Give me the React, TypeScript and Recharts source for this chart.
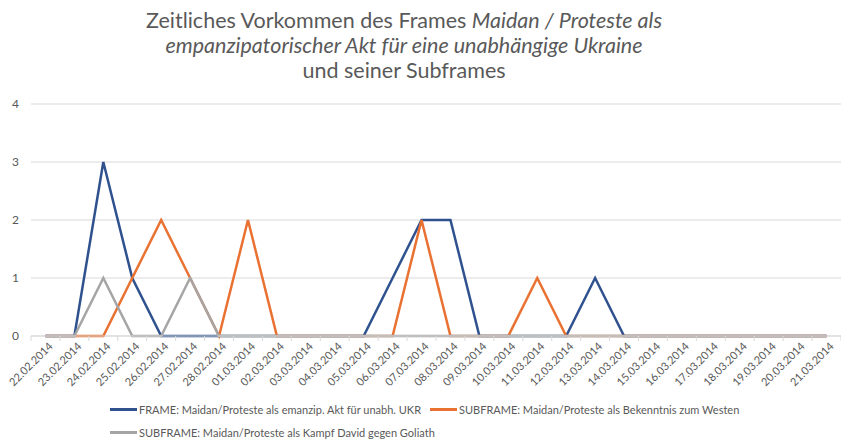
import { CartesianGrid, Line, LineChart, XAxis, YAxis } from "recharts"

const dates = [
  "22.02.2014", "23.02.2014", "24.02.2014", "25.02.2014", "26.02.2014", "27.02.2014", "28.02.2014",
  "01.03.2014", "02.03.2014", "03.03.2014", "04.03.2014", "05.03.2014", "06.03.2014", "07.03.2014",
  "08.03.2014", "09.03.2014", "10.03.2014", "11.03.2014", "12.03.2014", "13.03.2014", "14.03.2014",
  "15.03.2014", "16.03.2014", "17.03.2014", "18.03.2014", "19.03.2014", "20.03.2014", "21.03.2014",
]

const frameUkr = [0, 0, 3, 1, 0, 0, 0, 0, 0, 0, 0, 0, 1, 2, 2, 0, 0, 0, 0, 1, 0, 0, 0, 0, 0, 0, 0, 0]
const subWesten = [0, 0, 0, 1, 2, 1, 0, 2, 0, 0, 0, 0, 0, 2, 0, 0, 0, 1, 0, 0, 0, 0, 0, 0, 0, 0, 0, 0]
const subGoliath = [0, 0, 1, 0, 0, 1, 0, 0, 0, 0, 0, 0, 0, 0, 0, 0, 0, 0, 0, 0, 0, 0, 0, 0, 0, 0, 0, 0]

const yTicks = [0, 1, 2, 3, 4]

const seriesNames = {
  frame: "FRAME: Maidan/Proteste als emanzip. Akt für unabh. UKR",
  westen: "SUBFRAME: Maidan/Proteste als Bekenntnis zum Westen",
  goliath: "SUBFRAME: Maidan/Proteste als Kampf David gegen Goliath",
}

const data = dates.map((date, i) => ({
  date,
  frame: frameUkr[i],
  westen: subWesten[i],
  goliath: subGoliath[i],
}))

const FONT = "Lato, 'Open Sans', sans-serif"
const TEXT = "#595959"
const GRID = "#d9d9d9"
const BLUE = "#2f528f"
const ORANGE = "#e97132"
const GREY = "#a5a5a5"

const PLOT_LEFT = 31
const PLOT_WIDTH = 841 - PLOT_LEFT
const BAND = PLOT_WIDTH / dates.length

function DateTick({ x, y, payload, index }: any) {
  const isLast = index === dates.length - 1
  const tx = x + 6
  const ty = y + 9
  return (
    <g>
      <line x1={x - BAND / 2} x2={x - BAND / 2} y1={y} y2={y + 5} stroke={GRID} />
      {isLast && <line x1={x + BAND / 2} x2={x + BAND / 2} y1={y} y2={y + 5} stroke={GRID} />}
      <text
        x={tx}
        y={ty}
        transform={`rotate(-45 ${tx} ${ty})`}
        textAnchor="end"
        dominantBaseline="middle"
        fontSize={11}
        fontFamily={FONT}
        fill={TEXT}
      >
        {payload.value}
      </text>
    </g>
  )
}

function LegendItem({ color, label, left, top }: { color: string; label: string; left: number; top: number }) {
  return (
    <div style={{ position: "absolute", left, top, display: "flex", alignItems: "center", whiteSpace: "nowrap" }}>
      <span style={{ display: "inline-block", width: 27, height: 3, background: color, marginRight: 2 }} />
      <span style={{ fontSize: 11, color: TEXT, fontFamily: FONT }}>{label}</span>
    </div>
  )
}

export default function App() {
  return (
    <div style={{ position: "relative", width: 841, height: 441, background: "#fff", overflow: "hidden" }}>
      <style>{`body{margin:0}`}</style>
      <div
        style={{
          position: "absolute",
          left: 4,
          top: 8,
          width: 800,
          textAlign: "center",
          fontFamily: FONT,
          fontSize: 21.5,
          lineHeight: "25px",
          color: TEXT,
        }}
      >
        Zeitliches Vorkommen des Frames <i>Maidan / Proteste als</i>
        <br />
        <i>empanzipatorischer Akt für eine unabhängige Ukraine</i>
        <br />
        und seiner Subframes
      </div>
      <LineChart width={841} height={441} data={data} margin={{ top: 104, right: 0, left: 0, bottom: 0 }}>
        <CartesianGrid vertical={false} stroke={GRID} />
        <XAxis
          dataKey="date"
          interval={0}
          height={105}
          padding={{ left: BAND / 2, right: BAND / 2 }}
          tickLine={false}
          tickSize={0}
          tickMargin={0}
          axisLine={{ stroke: GRID }}
          tick={<DateTick />}
        />
        <YAxis
          width={PLOT_LEFT}
          domain={[0, 4]}
          ticks={yTicks}
          axisLine={false}
          tickLine={false}
          tickSize={0}
          tickMargin={12}
          tick={{ fontSize: 12, fill: TEXT, fontFamily: FONT }}
        />
        <Line type="linear" dataKey="frame" name={seriesNames.frame} stroke={BLUE} strokeWidth={2.5} dot={false} isAnimationActive={false} />
        <Line type="linear" dataKey="westen" name={seriesNames.westen} stroke={ORANGE} strokeWidth={2.5} dot={false} isAnimationActive={false} />
        <Line type="linear" dataKey="goliath" name={seriesNames.goliath} stroke={GREY} strokeWidth={2.5} dot={false} isAnimationActive={false} />
      </LineChart>
      <LegendItem color={BLUE} label={seriesNames.frame} left={110} top={403} />
      <LegendItem color={ORANGE} label={seriesNames.westen} left={430} top={403} />
      <LegendItem color={GREY} label={seriesNames.goliath} left={110} top={426} />
    </div>
  )
}
